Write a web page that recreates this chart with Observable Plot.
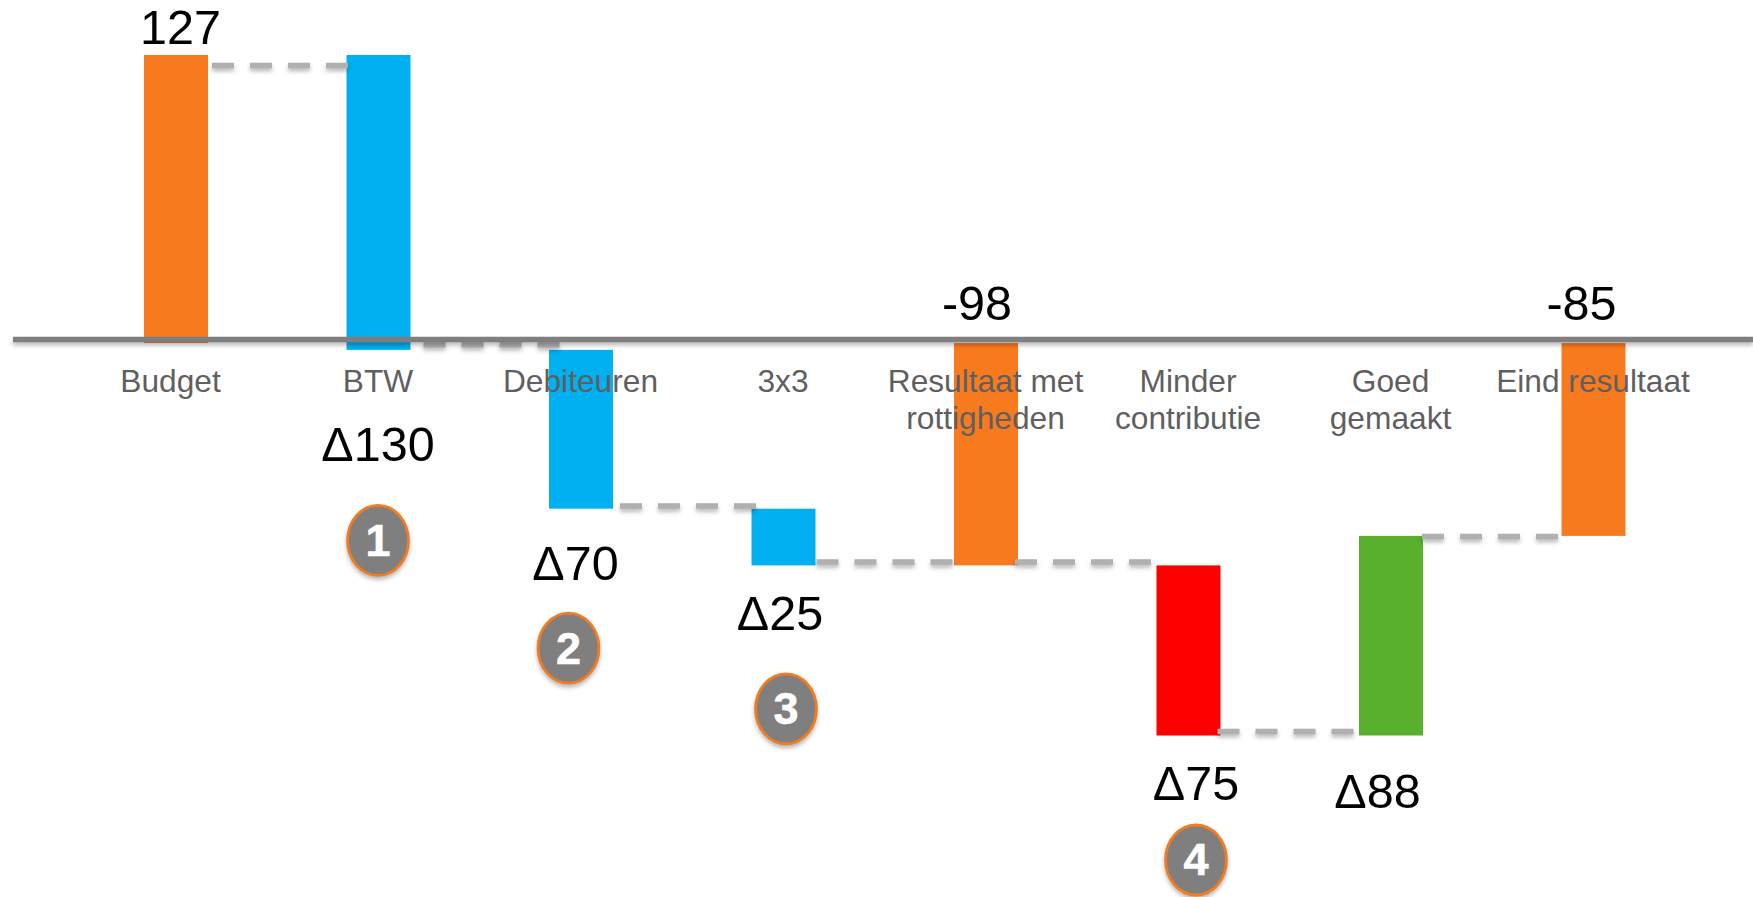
<!DOCTYPE html>
<html>
<head>
<meta charset="utf-8">
<script src="https://cdn.jsdelivr.net/npm/d3@7"></script>
<script src="https://cdn.jsdelivr.net/npm/@observablehq/plot@0.6"></script>
<style>
  html, body { margin: 0; padding: 0; background: #fff; overflow: hidden; }
  svg { display: block; }
</style>
</head>
<body>
<div id="chart"></div>
<script>
// Data
const categories = ["Budget", "BTW", "Debiteuren", "3x3", "Resultaat met\nrottigheden", "Minder\ncontributie", "Goed\ngemaakt", "Eind resultaat"];
const barStart = [0, 127, -3, -73, 0, -98, -173, 0];
const barEnd = [127, -3, -73, -98, -98, -173, -85, -85];
const kinds = ["total", "correction", "correction", "correction", "total", "loss", "gain", "total"];
const connectorLevel = [122.6, -0.5, -71.6, -96.3, -96.3, -171, -85];

const bars = categories.map((c, i) => ({category: c, y1: barStart[i], y2: barEnd[i], kind: kinds[i]}));

const FONT = "'Liberation Sans', Arial, sans-serif";
const softShadow = "drop-shadow(0px 3px 2px rgba(0,0,0,0.28))";

// Dashed connector from bar i to bar i + 1. The rule spans from the start of
// bar i to the end of bar i + 1, so the pattern skips bar i plus a small gap.
const connector = (i, gap) =>
  Plot.ruleY([connectorLevel[i]], {
    x1: () => categories[i], x2: () => categories[i + 1],
    stroke: "#b0b0b0", strokeWidth: 5.5,
    strokeDasharray: `0 ${64 + gap} 22 16 22 16 22 16 22 400`,
    imageFilter: softShadow
  });

// A value label next to a bar end
const note = (text, category, y, dx, dy, size = 48.5) =>
  Plot.text([text], {x: () => category, y: () => y, dx, dy, fontSize: size, fontFamily: FONT, fill: "#000", lineAnchor: "bottom", textAnchor: "middle"});

// Numbered badge: a slightly tall oval
const oval = {
  draw(ctx, size) {
    const r = Math.sqrt(size / Math.PI), rx = r * 0.87, ry = r, k = 0.5523;
    ctx.moveTo(rx, 0);
    ctx.bezierCurveTo(rx, k * ry, k * rx, ry, 0, ry);
    ctx.bezierCurveTo(-k * rx, ry, -rx, k * ry, -rx, 0);
    ctx.bezierCurveTo(-rx, -k * ry, -k * rx, -ry, 0, -ry);
    ctx.bezierCurveTo(k * rx, -ry, rx, -k * ry, rx, 0);
    ctx.closePath();
  }
};
const badge = (text, category, y, dx, dy) => [
  Plot.dot([text], {x: () => category, y: () => y, dx, dy, r: 35, symbol: oval, fill: "#7f7f7f", stroke: "#f47b20", strokeWidth: 2.8, imageFilter: softShadow}),
  Plot.text([text], {x: () => category, y: () => y, dx, dy: dy + 1, fontSize: 45, fontWeight: "bold", fontFamily: FONT, fill: "#fff", stroke: "#fff", strokeWidth: 0.6, lineAnchor: "middle", textAnchor: "middle"})
];

const axisLabel = {x: "category", y: () => 0, text: "category", dy: 22, lineAnchor: "top", lineHeight: 1.175, fontSize: 31.7, fontFamily: FONT, fill: "#5f5f5f"};

const chart = Plot.plot({
  width: 1753,
  height: 897,
  marginLeft: 13,
  marginRight: 0,
  marginTop: 0,
  marginBottom: 0,
  style: {background: "#fff"},
  x: {type: "band", domain: categories, paddingInner: 0.684, paddingOuter: 0, round: false, range: [144, 1625.5], axis: null},
  y: {domain: [127, -173], range: [55, 735.5], axis: null},
  color: {domain: ["total", "correction", "loss", "gain"], range: ["#f87a1f", "#00b0f0", "#ff0000", "#58b02c"]},
  marks: [
    Plot.barY(bars, {x: "category", y1: "y1", y2: "y2", fill: "kind"}),
    connector(0, 4),
    connector(1, 13),
    connector(2, 7),
    connector(3, 1),
    connector(4, -3),
    connector(5, -3),
    connector(6, -1),
    Plot.ruleY([0], {dy: -4, stroke: "#7f7f7f", strokeWidth: 5.5, imageFilter: softShadow}),
    Plot.text(bars.slice(0, 1), {...axisLabel, dx: -6}),
    Plot.text(bars.slice(1), {...axisLabel, dx: -1}),
    note("127", categories[0], 127, 4, -12),
    note("Δ130", categories[1], -3, -1, 111),
    note("Δ70", categories[2], -73, -6, 71),
    note("Δ25", categories[3], -98, -4, 64),
    note("-98", categories[4], 0, -9.5, -24),
    note("Δ75", categories[5], -173, 7, 64),
    note("Δ88", categories[6], -173, -14, 72),
    note("-85", categories[7], 0, -12.5, -24),
    badge("1", categories[1], -3, -1, 190),
    badge("2", categories[2], -73, -13, 139),
    badge("3", categories[3], -98, 2, 143),
    badge("4", categories[5], -173, 7, 124)
  ]
});
document.getElementById("chart").appendChild(chart);
</script>
</body>
</html>
